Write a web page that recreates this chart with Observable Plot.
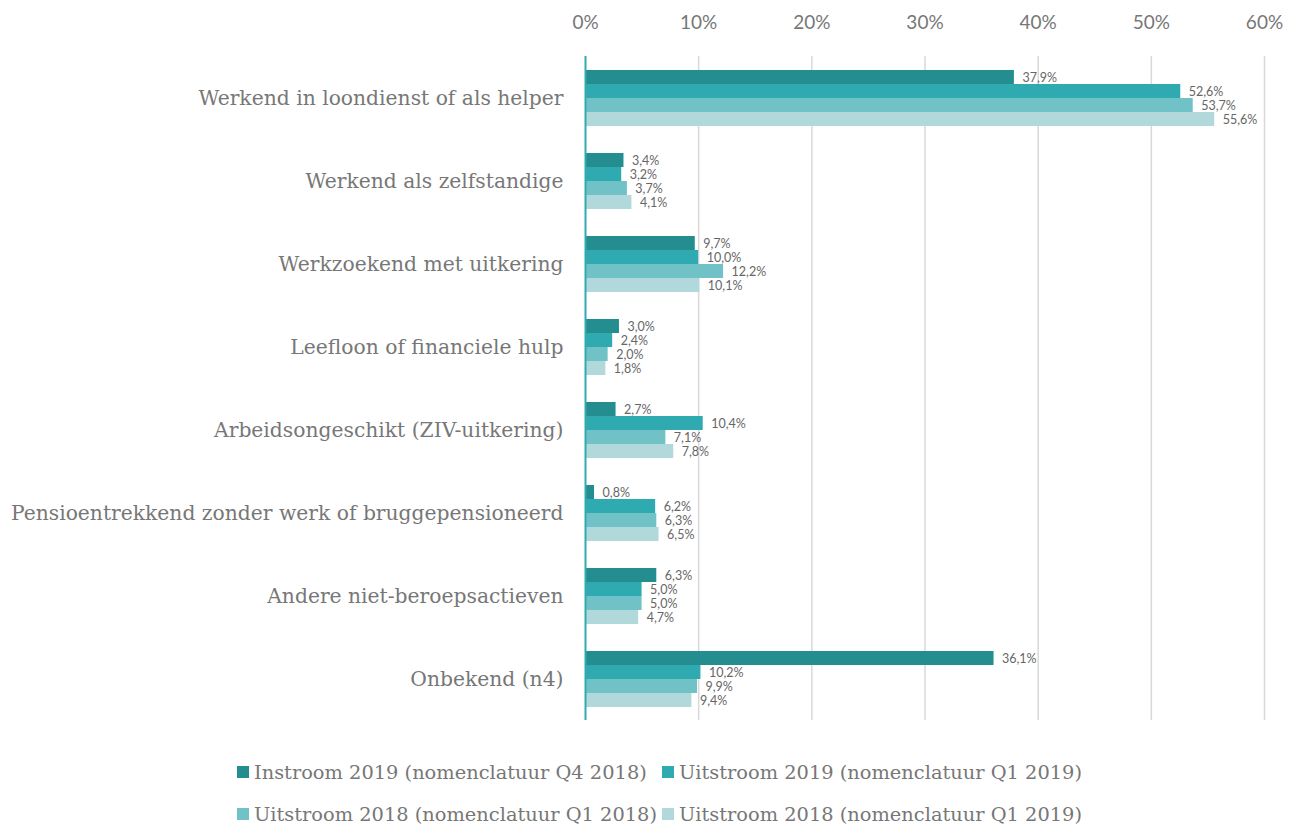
<!DOCTYPE html>
<html>
<head>
<meta charset="utf-8">
<script src="https://cdn.jsdelivr.net/npm/d3@7"></script>
<script src="https://cdn.jsdelivr.net/npm/@observablehq/plot@0.6"></script>
<style>
  body { margin: 0; background: #fff; }
  #chart { width: 1294px; }
  #legend { display: grid; grid-template-columns: 425px 425px; margin-left: 237px; margin-top: 21px; row-gap: 20px;
            font-family: "DejaVu Serif", serif; font-size: 19.4px; color: #777; }
  .item { display: flex; align-items: center; white-space: nowrap; height: 22px; }
  .sw { width: 12px; height: 12px; margin-right: 5px; display: inline-block; }
</style>
</head>
<body>
<div id="chart"></div>
<div id="legend"></div>
<script>
const categories = [
  "Werkend in loondienst of als helper",
  "Werkend als zelfstandige",
  "Werkzoekend met uitkering",
  "Leefloon of financiele hulp",
  "Arbeidsongeschikt (ZIV-uitkering)",
  "Pensioentrekkend zonder werk of bruggepensioneerd",
  "Andere niet-beroepsactieven",
  "Onbekend (n4)"
];
const series = [
  "Instroom 2019 (nomenclatuur Q4 2018)",
  "Uitstroom 2019 (nomenclatuur Q1 2019)",
  "Uitstroom 2018 (nomenclatuur Q1 2018)",
  "Uitstroom 2018 (nomenclatuur Q1 2019)"
];
const instroom2019_Q42018 = [37.9, 3.4, 9.7, 3.0, 2.7, 0.8, 6.3, 36.1];
const uitstroom2019_Q12019 = [52.6, 3.2, 10.0, 2.4, 10.4, 6.2, 5.0, 10.2];
const uitstroom2018_Q12018 = [53.7, 3.7, 12.2, 2.0, 7.1, 6.3, 5.0, 9.9];
const uitstroom2018_Q12019 = [55.6, 4.1, 10.1, 1.8, 7.8, 6.5, 4.7, 9.4];
const seriesColors = ["#238d8f", "#2eaab0", "#71c2c6", "#b1d9db"];
const xTicks = [0, 10, 20, 30, 40, 50, 60];

const valueArrays = [instroom2019_Q42018, uitstroom2019_Q12019, uitstroom2018_Q12018, uitstroom2018_Q12019];
const rows = categories.flatMap((c, i) => series.map((s, j) => ({cat: c, series: s, value: valueArrays[j][i]})));
const fmt = v => v.toFixed(1).replace(".", ",") + "%";

const chart = Plot.plot({
  width: 1294,
  height: 740,
  marginLeft: 585,
  marginRight: 30,
  marginTop: 56,
  marginBottom: 20,
  style: {fontFamily: "Lato, sans-serif", fontSize: "19px", color: "#777", background: "#fff"},
  x: {domain: [0, 60], axis: "top", ticks: xTicks, tickFormat: d => d + "%", tickSize: 0, tickPadding: 28, label: null, grid: false},
  fy: {domain: categories, padding: 0, axis: null, label: null},
  y: {domain: series, axis: null, paddingInner: 0, paddingOuter: 0.964},
  color: {domain: series, range: seriesColors},
  marks: [
    Plot.ruleX(xTicks.filter(d => d > 0), {stroke: "#d9d9d9", strokeWidth: 1.5}),
    Plot.barX(rows, {x: "value", y: "series", fy: "cat", fill: "series"}),
    Plot.ruleX([0], {stroke: "#2eaab0", strokeWidth: 2}),
    Plot.text(rows, {x: "value", y: "series", fy: "cat", text: d => fmt(d.value), dx: 8, textAnchor: "start",
      fill: "#666", fontSize: 12.5, fontFamily: "Lato, sans-serif"}),
    Plot.text(categories, {fy: d => d, text: d => d, frameAnchor: "left", dx: -22, textAnchor: "end",
      fill: "#777", fontSize: 20.3, fontFamily: "DejaVu Serif, serif"})
  ]
});
document.getElementById("chart").appendChild(chart);

const legend = document.getElementById("legend");
series.forEach((s, j) => {
  const item = document.createElement("div");
  item.className = "item";
  item.innerHTML = `<span class="sw" style="background:${seriesColors[j]}"></span><span>${s}</span>`;
  legend.appendChild(item);
});
</script>
</body>
</html>
